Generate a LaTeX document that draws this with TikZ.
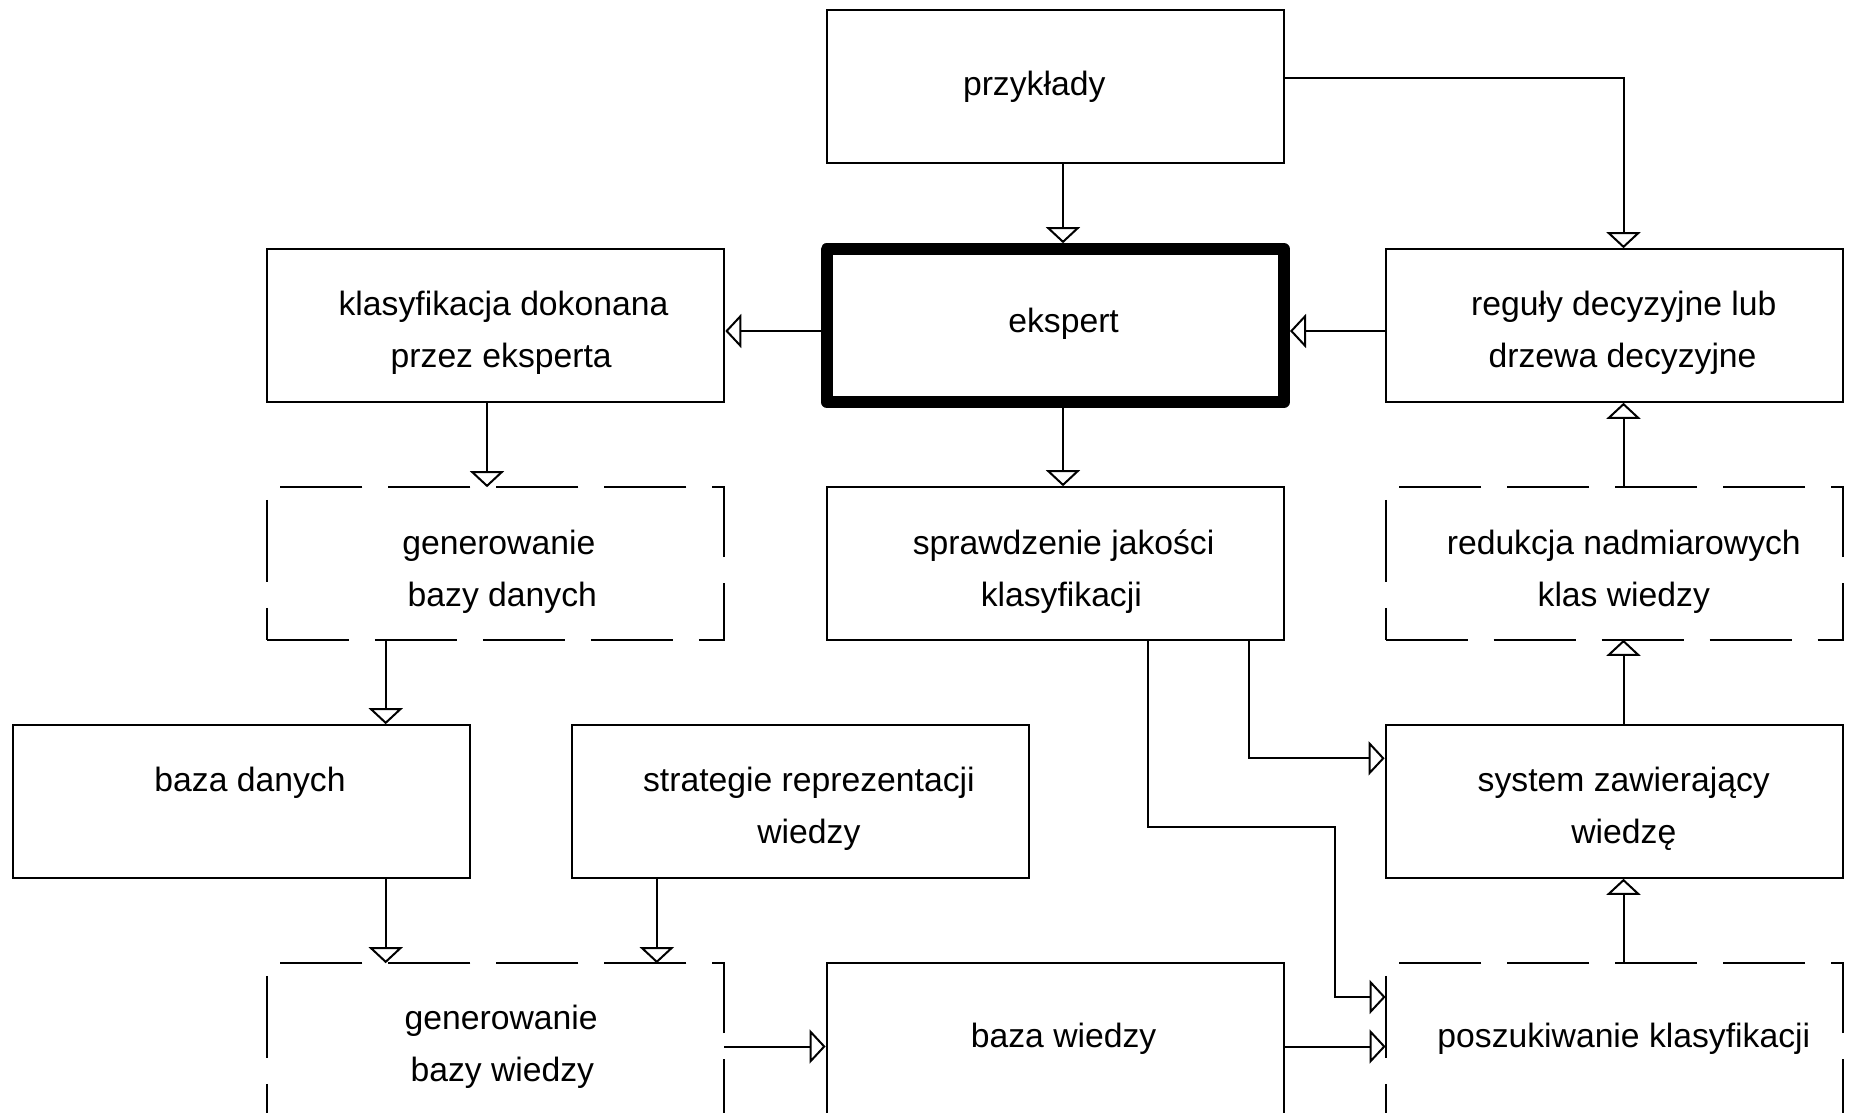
\documentclass[tikz,border=0pt]{standalone}
\usepackage{fontspec}
\setmainfont{Liberation Sans}
\usetikzlibrary{arrows.meta}
\begin{document}
\begin{tikzpicture}[x=0.5pt,y=-0.5pt,
  box/.style={draw, line width=1pt, minimum width=228.7pt, minimum height=76.3pt, inner sep=0pt},
  dbox/.style={minimum width=228.7pt, minimum height=76.3pt, inner sep=0pt, outer sep=0pt},
  thickbox/.style={draw, line width=6pt, line join=round, minimum width=228.7pt, minimum height=76.3pt, inner sep=0pt},
  dashline/.style={line width=1pt, dash pattern=on 41pt off 13pt},
  arr/.style={line width=1pt, -{Triangle[length=8pt,width=17pt,fill=white]}},
  txt/.style={anchor=base, inner sep=0pt, font=\fontsize{16.85pt}{26pt}\selectfont},
]
\fill[white] (0,0) rectangle (1849,1113);
\clip (0,0) rectangle (1849,1113);
\useasboundingbox (0,0) rectangle (1849,1113);

% boxes
\node[box] (prz) at (1055.3,86.5) {};
\node[thickbox] (eks) at (1055.3,325.5) {};
\node[box] (kla) at (495.6,325.5) {};
\node[box] (reg) at (1614.3,325.5) {};
\node[dbox] (gbd) at (495.6,563.5) {};
\node[box] (spr) at (1055.3,563.5) {};
\node[dbox] (red) at (1614.3,563.5) {};
\node[box] (bd) at (241.75,801.5) {};
\node[box] (str) at (800.7,801.5) {};
\node[box] (sys) at (1614.3,801.5) {};
\node[dbox] (gbw) at (495.6,1039.5) {};
\node[box] (bw) at (1055.3,1039.5) {};
\node[dbox] (pos) at (1614.3,1039.5) {};

\foreach \n in {gbd,red,gbw,pos}{
  \draw[dashline] (\n.south west) -- (\n.south east) -- (\n.north east) -- (\n.north west) -- cycle;
}

% texts
\node[txt] (tprz) at (1034.2,95.4) {przykłady};
\node[txt] (teks) at (1063.6,332.4) {ekspert};
\node[txt] (tkla1) at (503.5,315.9) {klasyfikacja dokonana};
\node[txt] (tkla2) at (501.2,367.8) {przez eksperta};
\node[txt] (treg1) at (1623.8,315.9) {reguły decyzyjne lub};
\node[txt] (treg2) at (1622.6,367.8) {drzewa decyzyjne};
\node[txt] (tgbd1) at (498.8,554.1) {generowanie};
\node[txt] (tgbd2) at (502.3,606) {bazy danych};
\node[txt] (tspr1) at (1063.6,554.1) {sprawdzenie jakości};
\node[txt] (tspr2) at (1061.3,606) {klasyfikacji};
\node[txt] (tred1) at (1623.8,554.1) {redukcja nadmiarowych};
\node[txt] (tred2) at (1623.8,606) {klas wiedzy};
\node[txt] (tbd) at (250,791.1) {baza danych};
\node[txt] (tstr1) at (808.9,791.1) {strategie reprezentacji};
\node[txt] (tstr2) at (808.9,843) {wiedzy};
\node[txt] (tsys1) at (1623.8,791.1) {system zawierający};
\node[txt] (tsys2) at (1623.8,843) {wiedzę};
\node[txt] (tgbw1) at (501.2,1029.3) {generowanie};
\node[txt] (tgbw2) at (502.3,1081.2) {bazy wiedzy};
\node[txt] (tbw) at (1063.6,1047) {baza wiedzy};
\node[txt] (tpos) at (1623.8,1047) {poszukiwanie klasyfikacji};

% connectors
\coordinate (xc) at (1063,0);
\coordinate (xr) at (1623.5,0);
\draw[arr] (prz.south -| xc) -- (eks.north -| xc);
\draw[arr] (prz.east |- 0,78) -- (1623.5,78) -- (reg.north -| xr);
\draw[arr] (eks.west |- 0,331) -- (kla.east |- 0,331);
\draw[arr] (reg.west |- 0,331) -- (eks.east |- 0,331);
\draw[arr] (kla.south -| 487,0) -- (gbd.north -| 487,0);
\draw[arr] (eks.south -| xc) -- (spr.north -| xc);
\draw[arr] (gbd.south -| 385.7,0) -- (bd.north -| 385.7,0);
\draw[arr] (red.north -| xr) -- (reg.south -| xr);
\draw[arr] (sys.north -| xr) -- (red.south -| xr);
\draw[arr] (pos.north -| xr) -- (sys.south -| xr);
\draw[arr] (spr.south -| 1249,0) -- (1249,758.3) -- (sys.west |- 0,758.3);
\draw[arr] (spr.south -| 1148.4,0) -- (1148.4,826.7) -- (1334.5,826.7) -- (1334.5,997) -- (pos.west |- 0,997);
\draw[arr] (bw.east |- 0,1046.5) -- (pos.west |- 0,1046.5);
\draw[arr] (gbw.east |- 0,1046.5) -- (bw.west |- 0,1046.5);
\draw[arr] (bd.south -| 385.7,0) -- (gbw.north -| 385.7,0);
\draw[arr] (str.south -| 656.8,0) -- (gbw.north -| 656.8,0);
\end{tikzpicture}
\end{document}
